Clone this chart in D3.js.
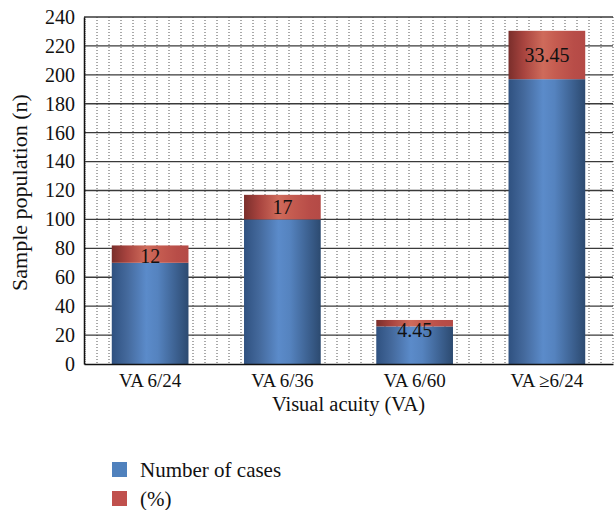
<!DOCTYPE html>
<html>
<head>
<meta charset="utf-8">
<script src="https://cdn.jsdelivr.net/npm/d3@7"></script>
<style>
  body { margin: 0; background: #fff; }
</style>
</head>
<body>
<div id="viz"></div>
<script>

// chart data
const categories = ["VA 6/24", "VA 6/36", "VA 6/60", "VA \u22656/24"];
const cases = [70, 100, 26, 197];
const percent = [12, 17, 4.45, 33.45];
const percentLabels = ["12", "17", "4.45", "33.45"];
const yTicks = [0, 20, 40, 60, 80, 100, 120, 140, 160, 180, 200, 220, 240];
const seriesNames = ["Number of cases", "(%)"];

const FONT = "'Liberation Serif', 'Times New Roman', Times, 'DejaVu Serif', serif";

const W = 616, H = 510;
const margin = {top: 17, right: 3, bottom: 146, left: 84},
    width = W - margin.left - margin.right,
    height = H - margin.top - margin.bottom;

const svg = d3.select("#viz")
  .append("svg")
  .attr("width", W)
  .attr("height", H)
  .attr("font-family", FONT);

const defs = svg.append("defs");

// cylinder-ish shading like the original
function addGrad(id, stops) {
  const g = defs.append("linearGradient")
    .attr("id", id)
    .attr("x1", "0%").attr("x2", "100%")
    .attr("y1", "0%").attr("y2", "0%");
  stops.forEach(s => g.append("stop").attr("offset", s[0]).attr("stop-color", s[1]));
}
addGrad("gBlue", [["0%", "#2f5180"], ["20%", "#44699c"], ["45%", "#5b8bca"], ["60%", "#5583bf"], ["85%", "#3b5f8e"], ["100%", "#2c4a70"]]);
addGrad("gRed", [["0%", "#7a2e2b"], ["20%", "#a8443f"], ["45%", "#cf6b5b"], ["60%", "#c65d51"], ["85%", "#b84d48"], ["100%", "#b44a46"]]);

const g = svg.append("g")
  .attr("transform", `translate(${margin.left}, ${margin.top})`);

const x = d3.scaleBand()
  .domain(categories)
  .range([0, width])
  .paddingInner(0.42)
  .paddingOuter(0.21);

const y = d3.scaleLinear()
  .domain([0, 240])
  .range([height, 0]);

// dotted vertical grid (44 divisions across the plot)
const vx = d3.scaleLinear().domain([0, 44]).range([1, width]);
g.append("g")
  .selectAll("line")
  .data(d3.range(0, 45))
  .enter()
  .append("line")
    .attr("x1", d => vx(d)).attr("x2", d => vx(d))
    .attr("y1", 0).attr("y2", height)
    .attr("stroke", "#555")
    .attr("stroke-width", 1)
    .attr("stroke-dasharray", d => d === 0 ? "1,1" : "1,2");

// horizontal grid
g.append("g")
  .selectAll("line")
  .data(yTicks.slice(1))
  .enter()
  .append("line")
    .attr("x1", 0).attr("x2", width)
    .attr("y1", d => y(d)).attr("y2", d => y(d))
    .attr("stroke", "#3a3a3a")
    .attr("stroke-width", 1.3);

// y axis
const yAxis = g.append("g")
  .call(d3.axisLeft(y).tickValues(yTicks).tickSize(0).tickPadding(9))
  .attr("font-family", FONT);
yAxis.select(".domain").attr("stroke", "#111").attr("stroke-width", 1.5);
yAxis.selectAll("text").style("font-size", "20px").style("font-family", FONT).attr("fill", "#111");

// stacked bars
const data = categories.map((c, i) => ({cat: c, cases: cases[i], pct: percent[i], label: percentLabels[i]}));

const bars = g.append("g").selectAll("g")
  .data(data)
  .enter()
  .append("g");

bars.append("rect")
  .attr("x", d => x(d.cat))
  .attr("width", x.bandwidth())
  .attr("y", d => y(d.cases))
  .attr("height", d => y(0) - y(d.cases))
  .attr("fill", "url(#gBlue)");

bars.append("rect")
  .attr("x", d => x(d.cat))
  .attr("width", x.bandwidth())
  .attr("y", d => y(d.cases + d.pct))
  .attr("height", d => y(d.cases) - y(d.cases + d.pct))
  .attr("fill", "url(#gRed)");

// labels: centred in the red part, pushed down when the part is too thin
bars.append("text")
  .attr("x", d => x(d.cat) + x.bandwidth() / 2)
  .attr("y", d => Math.max((y(d.cases) + y(d.cases + d.pct)) / 2, y(d.cases + d.pct) + 10))
  .attr("dy", "0.36em")
  .attr("text-anchor", "middle")
  .attr("fill", "#111")
  .style("font-family", FONT)
  .style("font-size", "20px")
  .text(d => d.label);

// x axis
const xAxis = g.append("g")
  .attr("transform", `translate(0, ${height})`)
  .call(d3.axisBottom(x).tickSize(0).tickPadding(10))
  .attr("font-family", FONT);
xAxis.select(".domain").attr("stroke", "#111").attr("stroke-width", 1.5);
xAxis.selectAll("text").style("font-size", "19px").style("font-family", FONT).attr("fill", "#111");

// axis titles
g.append("text")
  .attr("x", width / 2)
  .attr("y", height + 47)
  .attr("text-anchor", "middle")
  .attr("fill", "#111")
  .style("font-family", FONT)
  .style("font-size", "20.5px")
  .text("Visual acuity (VA)");

svg.append("text")
  .attr("transform", `translate(27, ${margin.top + height / 2 + 2}) rotate(-90)`)
  .attr("text-anchor", "middle")
  .attr("fill", "#111")
  .style("font-family", FONT)
  .style("font-size", "22px")
  .text("Sample population (n)");

// legend
const legend = svg.append("g").attr("transform", "translate(112, 462)");
const swatch = ["#4f81bd", "#c0504d"];
seriesNames.forEach((s, i) => {
  legend.append("rect")
    .attr("x", 0).attr("y", i * 29)
    .attr("width", 15).attr("height", 15)
    .attr("fill", swatch[i]);
  legend.append("text")
    .attr("x", 28).attr("y", i * 29 + 7.5)
    .attr("dy", "0.36em")
    .attr("fill", "#111")
    .style("font-family", FONT)
    .style("font-size", "21px")
    .text(s);
});
</script>
</body>
</html>
